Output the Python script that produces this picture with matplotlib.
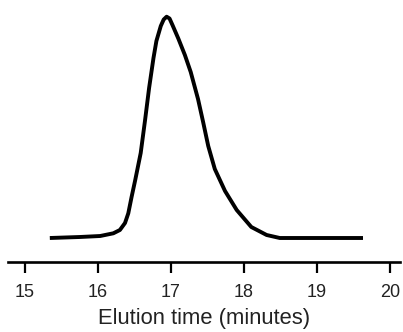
import matplotlib
matplotlib.use("Agg")
import matplotlib.pyplot as plt

# elution profile (time in minutes, signal in arbitrary units)
time = [15.34, 15.75, 16.03, 16.21, 16.30, 16.37, 16.415, 16.46, 16.51, 16.585,
        16.645, 16.70, 16.76, 16.80, 16.86, 16.90, 16.94, 16.98, 17.02,
        17.10, 17.19, 17.27, 17.37, 17.44, 17.51, 17.60, 17.74, 17.90,
        18.10, 18.31, 18.49, 19.63]
signal = [0, 1, 2, 4.7, 8, 15, 24.7, 41, 58, 85,
          118, 150, 180, 197, 212, 218.5, 221.3, 219.5, 213,
          199.5, 183, 166, 139, 116, 92, 69, 47, 28,
          11, 3, 0, 0]
xticks = [15, 16, 17, 18, 19, 20]

plt.rcParams['font.family'] = ['Liberation Sans', 'DejaVu Sans']

fig = plt.figure(figsize=(4.03, 3.32), dpi=100)
ax = fig.add_axes([8 / 403, 70 / 332, 392 / 403, 262 / 332])

ax.plot(time, signal, color='black', lw=2.8, solid_capstyle='butt', solid_joinstyle='round')

ax.set_xlim(15 - 17 / 73, 20 + 10 / 73)
ax.set_ylim(-24, 238)
ax.set_xticks(xticks)
ax.set_yticks([])
for s in ['top', 'right', 'left']:
    ax.spines[s].set_visible(False)
ax.spines['bottom'].set_linewidth(1.9)
ax.tick_params(axis='x', direction='out', length=8, width=1.6, pad=8, labelsize=13,
               labelcolor='#222222')
ax.set_xlabel('Elution time (minutes)', fontsize=15.8, labelpad=5, color='#222222')

fig.savefig('out.png', dpi=100)
